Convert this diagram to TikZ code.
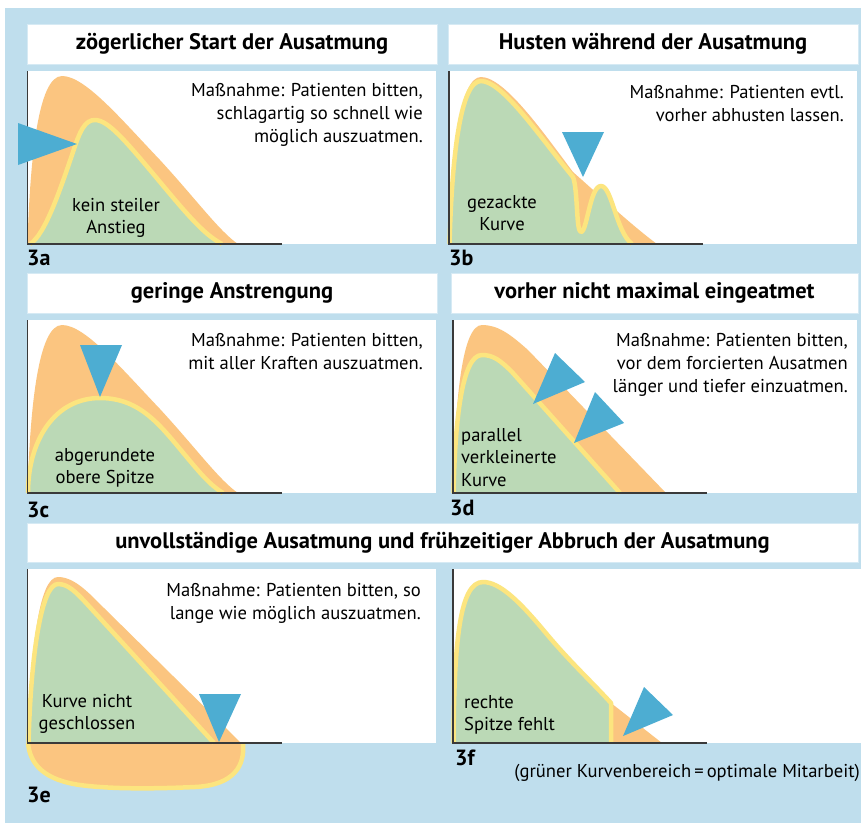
\documentclass[tikz,border=0pt]{standalone}
\usepackage{fontspec}
\setmainfont{PT Sans}
\definecolor{bgblue}{HTML}{BFDEED}
\definecolor{orng}{HTML}{FBC580}
\definecolor{yel}{HTML}{FCE57F}
\definecolor{grn}{HTML}{BBD9B6}
\definecolor{tri}{HTML}{4DADD2}
\definecolor{axiscol}{HTML}{3A3A3A}
\definecolor{boxline}{HTML}{D6EAF4}
\tikzset{
  titlebox/.style={fill=white, draw=boxline, line width=1pt, inner sep=0pt,
    font=\fontsize{22.5}{26}\selectfont\bfseries},
  plotarea/.style={fill=white},
  orangefill/.style={fill=orng},
  greenfill/.style={fill=grn},
  yelline/.style={draw=yel, line width=4.5pt, line join=round},
  marker/.style={fill=tri},
  axisline/.style={draw=axiscol, line width=1.3pt},
  bodytext/.style={font=\fontsize{18.6}{23}\selectfont, inner sep=0pt, align=right},
  labeltext/.style={font=\fontsize{18.6}{22.5}\selectfont, inner sep=0pt},
  paneltag/.style={font=\fontsize{22}{24}\selectfont\bfseries, inner sep=0pt},
}
% curves
\def\orA{(27.5,244) .. controls (30,160) and (38,76) .. (62,76) .. controls (85,76) and (120,118) .. (160,160) .. controls (195,198) and (220,232) .. (238,244)}
\def\grA{(30,244) .. controls (45,235) and (60,190) .. (72,155) .. controls (80,130) and (85,120) .. (95,120) .. controls (108,120) and (125,140) .. (160,182) .. controls (190,218) and (205,235) .. (222,244)}
\def\orB{(449,244) .. controls (452,150) and (460,77) .. (481,77) .. controls (505,77) and (545,135) .. (573,172) .. controls (600,196) and (635,228) .. (657,244)}
\def\grB{(449.5,244) .. controls (452,152) and (461,81) .. (481,81) .. controls (503,81) and (542,140) .. (573,177) .. controls (578,190) and (576,232) .. (581,232) .. controls (587,232) and (590,186) .. (601,186) .. controls (612,186) and (616,232) .. (632,244)}
\def\orC{(27.5,493) .. controls (30,409) and (38,325) .. (62,325) .. controls (85,325) and (120,367) .. (160,409) .. controls (195,447) and (220,481) .. (238,493)}
\def\grC{(28,493) .. controls (28,440) and (55,398) .. (100,398) .. controls (140,398) and (160,425) .. (185,455) .. controls (200,473) and (210,485) .. (223,493)}
\def\orD{(453,493) .. controls (455,400) and (462,325) .. (482,325) .. controls (498,325) and (510,334) .. (528,350) -- (666,493)}
\def\grD{(453.5,493) .. controls (455,420) and (462,355) .. (482,355) .. controls (493,355) and (500,360) .. (512,372) -- (620,493)}
\def\blobE{(243,743) .. controls (245,765) and (235,785) .. (195,787) .. controls (150,789) and (110,789) .. (80,785) .. controls (45,780) and (30,765) .. (28,743)}
\def\orE{(28,743) .. controls (31,640) and (40,577) .. (58,577) .. controls (74,577) and (88,592) .. (103,607) -- (241,743)}
\def\grE{(28.5,743) .. controls (31,650) and (42,584) .. (58,584) .. controls (68,584) and (76,592) .. (87,604) -- (214,743)}
\def\grF{(453.5,743) .. controls (454,640) and (460,582) .. (483,582) .. controls (500,582) and (520,602) .. (545,632) .. controls (570,662) and (590,680) .. (611,703) -- (611,743)}
\begin{document}
\begin{tikzpicture}[x=1pt,y=-1pt]
\useasboundingbox (0,0) rectangle (861,823);
\fill[white] (0,0) rectangle (861,823);
\fill[bgblue] (5,8) rectangle (861,823);

% ---------- titles ----------
\node[titlebox, minimum width=410pt, minimum height=40pt] (tA) at (232,44) {zögerlicher Start der Ausatmung};
\node[titlebox, minimum width=410pt, minimum height=40pt] (tB) at (653,44) {Husten während der Ausatmung};
\node[titlebox, minimum width=410pt, minimum height=40pt] (tC) at (232,293) {geringe Anstrengung};
\node[titlebox, minimum width=407pt, minimum height=40pt] (tD) at (654.5,293) {vorher nicht maximal eingeatmet};
\node[titlebox, minimum width=831pt, minimum height=39pt] (tE) at (442.5,542.5) {unvollständige Ausatmung und frühzeitiger Abbruch der Ausatmung};

% ---------- plot areas ----------
\fill[plotarea] (27,71) rectangle (436,244);
\fill[plotarea] (448,71) rectangle (857,244);
\fill[plotarea] (27,320) rectangle (436,493);
\fill[plotarea] (453,320) rectangle (857,493);
\fill[plotarea] (27,569) rectangle (436,743);
\fill[plotarea] (453,569) rectangle (861,743);

% ---------- 3a ----------
\fill[orangefill] \orA -- cycle;
\fill[greenfill] \grA -- cycle;
\draw[yelline] \grA;
\draw[axisline] (27.5,71) -- (27.5,244) -- (282,244);
\fill[marker] (18,123) -- (18,165) -- (77,144) -- cycle;
\node[bodytext, anchor=north east] (mA) at (423,83) {Maßnahme: Patienten bitten,\\schlagartig so schnell wie\\möglich auszuatmen.};
\node[labeltext, anchor=north, align=center] (lA) at (116,198) {kein steiler\\Anstieg};
\node[paneltag, anchor=west] (nA) at (27,258) {3a};

% ---------- 3b ----------
\fill[orangefill] \orB -- cycle;
\fill[greenfill] \grB -- cycle;
\draw[yelline] \grB;
\draw[axisline] (449,71) -- (449,244) -- (703,244);
\fill[marker] (562,132) -- (604,132) -- (583,177) -- cycle;
\node[bodytext, anchor=north east] (mB) at (844,85) {Maßnahme: Patienten evtl.\\vorher abhusten lassen.};
\node[labeltext, anchor=north, align=center] (lB) at (502,195) {gezackte\\Kurve};
\node[paneltag, anchor=west] (nB) at (449,258) {3b};

% ---------- 3c ----------
\fill[orangefill] \orC -- cycle;
\fill[greenfill] \grC -- cycle;
\draw[yelline] \grC;
\draw[axisline] (27.5,320) -- (27.5,493) -- (282,493);
\fill[marker] (80,345) -- (122,345) -- (100,397) -- cycle;
\node[bodytext, anchor=north east] (mC) at (423,333) {Maßnahme: Patienten bitten,\\mit aller Kraften auszuatmen.};
\node[labeltext, anchor=north, align=center] (lC) at (105,448) {abgerundete\\obere Spitze};
\node[paneltag, anchor=west] (nC) at (27,510) {3c};

% ---------- 3d ----------
\fill[orangefill] \orD -- cycle;
\fill[greenfill] \grD -- cycle;
\draw[yelline] \grD;
\draw[axisline] (453,320) -- (453,493) -- (707,493);
\fill[marker] (555,353) -- (585,382) -- (533,404) -- cycle;
\fill[marker] (595,392) -- (624,423) -- (574,443) -- cycle;
\node[bodytext, anchor=north east] (mD) at (848,333) {Maßnahme: Patienten bitten,\\vor dem forcierten Ausatmen\\länger und tiefer einzuatmen.};
\node[labeltext, anchor=north west, align=left] (lD) at (461,428) {parallel\\verkleinerte\\Kurve};
\node[paneltag, anchor=west] (nD) at (450,508) {3d};

% ---------- 3e ----------
\fill[orangefill] \blobE -- cycle;
\draw[yelline] \blobE;
\fill[orangefill] \orE -- cycle;
\fill[greenfill] \grE -- cycle;
\draw[yelline] \grE;
\draw[axisline] (27.5,569) -- (27.5,743) -- (282,743);
\fill[marker] (199,694) -- (241,694) -- (219,742) -- cycle;
\node[bodytext, anchor=north east] (mE) at (421,583) {Maßnahme: Patienten bitten, so\\lange wie möglich auszuatmen.};
\node[labeltext, anchor=north, align=center] (lE) at (87,694) {Kurve nicht\\geschlossen};
\node[paneltag, anchor=west] (nE) at (27,795) {3e};

% ---------- 3f ----------
\fill[orangefill] (611,703) -- (662,743) -- (611,743) -- cycle;
\fill[greenfill] \grF -- cycle;
\draw[yelline] \grF;
\draw[axisline] (453,569) -- (453,743) -- (707,743);
\fill[marker] (644,687) -- (673,715) -- (623,736) -- cycle;
\node[labeltext, anchor=north west, align=left] (lF) at (464,695) {rechte\\Spitze fehlt};
\node[paneltag, anchor=west] (nF) at (455,758) {3f};
\node[labeltext, anchor=east] (cap) at (860,773) {(grüner Kurvenbereich\,=\,optimale Mitarbeit)};
\end{tikzpicture}
\end{document}
